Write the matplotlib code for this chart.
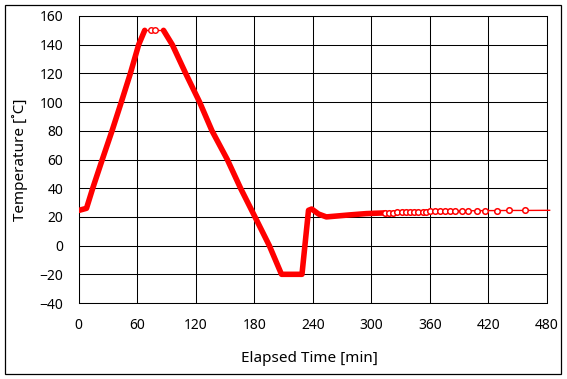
import matplotlib
matplotlib.use("Agg")
import matplotlib.pyplot as plt
from matplotlib.patches import Rectangle

plt.rcParams['font.family'] = ['Noto Sans', 'DejaVu Sans']

# ramp-up (densely logged)
heat_time = [0, 8, 14.4, 24.2, 34.2, 43.7, 53, 61.5, 67.7]
heat_temp = [24.5, 26, 40, 60, 80, 100, 120, 140, 150]
# hold at 150 (sparsely logged)
hold_time = [67.7, 74, 78.3, 87]
hold_temp = [150, 150, 150, 150]
# cool-down, hold at -20, recovery (densely logged)
cool_time = [87, 96, 109.7, 124, 136.7, 152.4, 166, 180.8, 195.5, 208, 229,
             235.7, 239, 246, 254, 261, 278, 295, 314]
cool_temp = [150, 140, 120, 100, 80, 60, 40, 20, 0, -20, -20,
             24.6, 25.5, 22, 20, 20.4, 21.4, 22.3, 22.8]
# tail (sparsely logged)
tail_time = [314, 318.6, 322.7, 326.8, 331.3, 335.7, 339.8, 344.2, 348.3, 352.8,
             356.2, 360.3, 365.4, 370.6, 375.7, 380.8, 385.9, 392.8, 399.6, 408.2,
             416.7, 428.7, 441.6, 457.7, 483]
tail_temp = [22.8, 22.9, 23.0, 23.1, 23.2, 23.3, 23.4, 23.5, 23.6, 23.7,
             23.7, 23.8, 23.9, 24.0, 24.0, 24.1, 24.1, 24.2, 24.3, 24.3,
             24.4, 24.4, 24.5, 24.5, 24.6]

x_ticks = list(range(0, 481, 60))
y_ticks = list(range(-40, 161, 20))

RED = '#ff0000'

fig = plt.figure(figsize=(5.67, 3.79), dpi=100)
fig.patch.set_facecolor('white')
ax = fig.add_axes([0.1388, 0.2005, 0.8254, 0.7573])

ax.plot(heat_time, heat_temp, color=RED, lw=4.0, solid_capstyle='round',
        solid_joinstyle='round', zorder=3)
ax.plot(hold_time, hold_temp, color=RED, lw=1.0, marker='o', ms=4.0,
        mfc='white', mec=RED, mew=1.0, markevery=[1, 2], zorder=3)
ax.plot(cool_time, cool_temp, color=RED, lw=4.0, solid_capstyle='round',
        solid_joinstyle='round', zorder=3)
ax.plot(tail_time, tail_temp, color=RED, lw=1.0, marker='o', ms=4.0,
        mfc='white', mec=RED, mew=1.1,
        markevery=list(range(len(tail_time) - 1)), zorder=3, clip_on=False)

ax.set_xlim(0, 480)
ax.set_ylim(-40, 160)
ax.set_xticks(x_ticks)
ax.set_yticks(y_ticks)
ax.grid(True, color='black', lw=0.75)
ax.set_axisbelow(True)
for s in ax.spines.values():
    s.set_color('black')
    s.set_linewidth(0.75)
ax.tick_params(length=0, pad=11, labelsize=10, colors='black')

ax.set_xlabel('Elapsed Time [min]', fontsize=11)
ax.set_ylabel('Temperature [˚C]', fontsize=11)
ax.xaxis.set_label_coords(0.493, -0.167)
ax.yaxis.set_label_coords(-0.108, 0.5)

fig.patches.append(Rectangle((5 / 567, 5 / 379), 556 / 567, 369 / 379,
                             transform=fig.transFigure, fill=False,
                             edgecolor='black', lw=0.9))

fig.savefig('out.png', dpi=100)
